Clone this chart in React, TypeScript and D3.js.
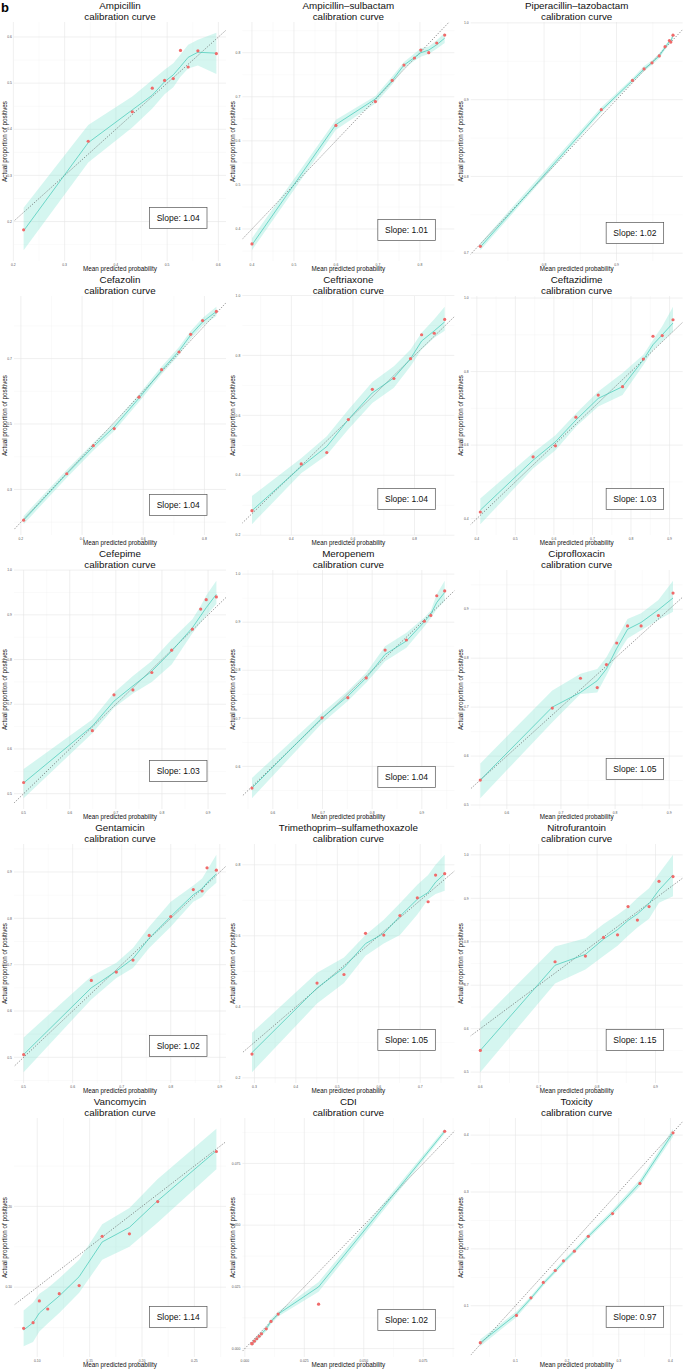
import * as React from 'react';
import * as d3 from 'd3';

// ---- data (values, not pixels) ----
const drugNames = [
  'Ampicillin', 'Ampicillin\u2013sulbactam', 'Piperacillin\u2013tazobactam',
  'Cefazolin', 'Ceftriaxone', 'Ceftazidime',
  'Cefepime', 'Meropenem', 'Ciprofloxacin',
  'Gentamicin', 'Trimethoprim\u2013sulfamethoxazole', 'Nitrofurantoin',
  'Vancomycin', 'CDI', 'Toxicity',
];
const slopes = ['1.04', '1.01', '1.02', '1.04', '1.04', '1.03', '1.03', '1.04', '1.05', '1.02', '1.05', '1.15', '1.14', '1.02', '0.97'];

const ampX = [0.220, 0.346, 0.432, 0.471, 0.495, 0.512, 0.526, 0.541, 0.560, 0.596];
const ampY = [0.182, 0.374, 0.438, 0.489, 0.506, 0.510, 0.571, 0.535, 0.570, 0.564];
const ampFit = [0.180, 0.371, 0.442, 0.474, 0.503, 0.518, 0.536, 0.556, 0.567, 0.565];
const ampLo = [0.138, 0.328, 0.404, 0.445, 0.476, 0.491, 0.514, 0.532, 0.538, 0.520];
const ampHi = [0.230, 0.409, 0.471, 0.507, 0.529, 0.543, 0.562, 0.583, 0.594, 0.609];

const asX = [0.400, 0.600, 0.694, 0.734, 0.762, 0.787, 0.802, 0.821, 0.840, 0.859];
const asY = [0.366, 0.635, 0.689, 0.737, 0.772, 0.788, 0.806, 0.800, 0.822, 0.840];
const asFit = [0.364, 0.637, 0.695, 0.737, 0.772, 0.789, 0.800, 0.806, 0.818, 0.833];
const asLo = [0.352, 0.625, 0.685, 0.728, 0.764, 0.782, 0.791, 0.797, 0.809, 0.822];
const asHi = [0.379, 0.648, 0.702, 0.746, 0.779, 0.798, 0.810, 0.814, 0.828, 0.845];

const ptX = [0.712, 0.879, 0.922, 0.938, 0.949, 0.959, 0.967, 0.973, 0.975, 0.978];
const ptY = [0.709, 0.887, 0.925, 0.940, 0.948, 0.957, 0.969, 0.977, 0.975, 0.984];
const ptFit = [0.708, 0.886, 0.925, 0.940, 0.948, 0.957, 0.968, 0.976, 0.976, 0.984];
const ptLo = [0.704, 0.883, 0.922, 0.937, 0.945, 0.954, 0.965, 0.973, 0.973, 0.980];
const ptHi = [0.713, 0.890, 0.928, 0.944, 0.951, 0.960, 0.971, 0.978, 0.979, 0.987];

const ceX = [0.209, 0.350, 0.437, 0.505, 0.586, 0.660, 0.717, 0.755, 0.794, 0.839];
const ceY = [0.206, 0.348, 0.434, 0.486, 0.582, 0.666, 0.720, 0.774, 0.816, 0.844];
const ceFit = [0.206, 0.348, 0.431, 0.491, 0.579, 0.664, 0.723, 0.772, 0.812, 0.844];
const ceLo = [0.194, 0.336, 0.419, 0.479, 0.567, 0.652, 0.711, 0.760, 0.800, 0.830];
const ceHi = [0.219, 0.360, 0.443, 0.503, 0.591, 0.676, 0.735, 0.784, 0.824, 0.858];

const crX = [0.272, 0.432, 0.515, 0.585, 0.663, 0.733, 0.787, 0.823, 0.864, 0.898];
const crY = [0.282, 0.438, 0.476, 0.586, 0.687, 0.723, 0.789, 0.869, 0.874, 0.920];
const crFit = [0.282, 0.429, 0.496, 0.586, 0.675, 0.725, 0.789, 0.848, 0.882, 0.912];
const crLo = [0.237, 0.407, 0.468, 0.554, 0.641, 0.692, 0.764, 0.820, 0.859, 0.882];
const crHi = [0.331, 0.457, 0.530, 0.619, 0.711, 0.764, 0.820, 0.876, 0.921, 0.962];

const czX = [0.409, 0.546, 0.604, 0.657, 0.715, 0.778, 0.832, 0.857, 0.881, 0.909];
const czY = [0.418, 0.568, 0.598, 0.676, 0.736, 0.759, 0.834, 0.896, 0.898, 0.941];
const czFit = [0.423, 0.559, 0.609, 0.668, 0.727, 0.759, 0.832, 0.873, 0.900, 0.932];
const czLo = [0.385, 0.536, 0.586, 0.650, 0.705, 0.736, 0.818, 0.859, 0.882, 0.909];
const czHi = [0.455, 0.579, 0.627, 0.686, 0.746, 0.796, 0.846, 0.886, 0.923, 0.976];

const cpX = [0.500, 0.649, 0.696, 0.737, 0.778, 0.821, 0.866, 0.884, 0.896, 0.918];
const cpY = [0.525, 0.641, 0.721, 0.732, 0.771, 0.821, 0.868, 0.913, 0.934, 0.940];
const cpFit = [0.524, 0.651, 0.707, 0.741, 0.774, 0.819, 0.871, 0.898, 0.916, 0.946];
const cpLo = [0.490, 0.635, 0.692, 0.724, 0.750, 0.789, 0.859, 0.883, 0.898, 0.924];
const cpHi = [0.555, 0.666, 0.726, 0.763, 0.797, 0.845, 0.890, 0.920, 0.943, 0.976];

const meX = [0.558, 0.699, 0.751, 0.788, 0.826, 0.869, 0.905, 0.918, 0.930, 0.946];
const meY = [0.555, 0.701, 0.743, 0.784, 0.842, 0.863, 0.902, 0.914, 0.955, 0.965];
const meFit = [0.555, 0.701, 0.746, 0.784, 0.833, 0.861, 0.901, 0.917, 0.941, 0.962];
const meLo = [0.534, 0.690, 0.736, 0.774, 0.819, 0.847, 0.891, 0.908, 0.927, 0.944];
const meHi = [0.576, 0.711, 0.757, 0.795, 0.850, 0.878, 0.910, 0.924, 0.958, 0.986];

const ciX = [0.551, 0.684, 0.736, 0.767, 0.784, 0.803, 0.823, 0.848, 0.880, 0.907];
const ciY = [0.551, 0.698, 0.759, 0.740, 0.787, 0.831, 0.866, 0.866, 0.887, 0.933];
const ciFit = [0.551, 0.700, 0.730, 0.754, 0.778, 0.820, 0.859, 0.873, 0.899, 0.923];
const ciLo = [0.514, 0.669, 0.727, 0.730, 0.765, 0.806, 0.840, 0.857, 0.878, 0.895];
const ciHi = [0.585, 0.734, 0.768, 0.778, 0.802, 0.840, 0.880, 0.892, 0.919, 0.958];

const geX = [0.500, 0.638, 0.689, 0.723, 0.756, 0.800, 0.846, 0.864, 0.874, 0.893];
const geY = [0.506, 0.666, 0.684, 0.710, 0.763, 0.804, 0.862, 0.859, 0.909, 0.904];
const geFit = [0.506, 0.650, 0.686, 0.713, 0.757, 0.804, 0.851, 0.864, 0.877, 0.896];
const geLo = [0.468, 0.625, 0.671, 0.693, 0.736, 0.782, 0.836, 0.846, 0.859, 0.877];
const geHi = [0.543, 0.675, 0.704, 0.736, 0.782, 0.836, 0.871, 0.886, 0.904, 0.937];

const tsX = [0.294, 0.451, 0.516, 0.568, 0.612, 0.651, 0.693, 0.719, 0.737, 0.759];
const tsY = [0.267, 0.467, 0.491, 0.607, 0.602, 0.657, 0.707, 0.696, 0.771, 0.775];
const tsFit = [0.271, 0.453, 0.510, 0.578, 0.607, 0.655, 0.703, 0.722, 0.751, 0.775];
const tsLo = [0.216, 0.409, 0.467, 0.544, 0.578, 0.602, 0.660, 0.703, 0.718, 0.727];
const tsHi = [0.327, 0.496, 0.539, 0.602, 0.645, 0.692, 0.744, 0.771, 0.800, 0.828];

const nfX = [0.600, 0.728, 0.780, 0.811, 0.835, 0.853, 0.869, 0.889, 0.906, 0.930];
const nfY = [0.550, 0.754, 0.767, 0.810, 0.816, 0.881, 0.850, 0.881, 0.939, 0.950];
const nfFit = [0.550, 0.746, 0.771, 0.806, 0.828, 0.849, 0.864, 0.888, 0.919, 0.954];
const nfLo = [0.500, 0.704, 0.736, 0.767, 0.791, 0.814, 0.833, 0.853, 0.890, 0.905];
const nfHi = [0.616, 0.789, 0.808, 0.841, 0.862, 0.880, 0.901, 0.923, 0.957, 1.000];

const vaX = [0.087, 0.096, 0.102, 0.110, 0.121, 0.140, 0.162, 0.188, 0.215, 0.271];
const vaY = [0.049, 0.056, 0.083, 0.073, 0.092, 0.102, 0.163, 0.166, 0.206, 0.268];
const vaFit = [0.047, 0.056, 0.068, 0.077, 0.089, 0.113, 0.156, 0.174, 0.207, 0.269];
const vaLo = [0.027, 0.032, 0.045, 0.055, 0.068, 0.093, 0.134, 0.150, 0.180, 0.246];
const vaHi = [0.071, 0.081, 0.092, 0.099, 0.111, 0.134, 0.178, 0.198, 0.234, 0.296];

const cdX = [0.003, 0.003, 0.004, 0.005, 0.006, 0.007, 0.009, 0.011, 0.014, 0.031, 0.084];
const cdY = [0.002, 0.002, 0.003, 0.004, 0.005, 0.006, 0.008, 0.011, 0.014, 0.018, 0.088];
const cdFit = [0.002, 0.002, 0.003, 0.004, 0.005, 0.006, 0.008, 0.011, 0.014, 0.025, 0.088];
const cdLo = [0.001, 0.001, 0.002, 0.003, 0.004, 0.005, 0.007, 0.010, 0.013, 0.023, 0.087];
const cdHi = [0.003, 0.003, 0.004, 0.005, 0.006, 0.007, 0.009, 0.012, 0.015, 0.027, 0.089];

const txX = [0.032, 0.102, 0.130, 0.154, 0.177, 0.193, 0.214, 0.241, 0.288, 0.341, 0.405];
const txY = [0.035, 0.083, 0.114, 0.141, 0.162, 0.179, 0.196, 0.222, 0.262, 0.315, 0.404];
const txFit = [0.035, 0.085, 0.113, 0.139, 0.161, 0.177, 0.196, 0.222, 0.264, 0.316, 0.404];
const txLo = [0.029, 0.080, 0.109, 0.135, 0.157, 0.173, 0.192, 0.218, 0.259, 0.310, 0.397];
const txHi = [0.041, 0.090, 0.117, 0.143, 0.165, 0.181, 0.200, 0.226, 0.269, 0.322, 0.411];

const xTickSets = [
  [0.2, 0.3, 0.4, 0.5, 0.6], [0.4, 0.5, 0.6, 0.7, 0.8], [0.8, 0.9],
  [0.2, 0.4, 0.6, 0.8], [0.4, 0.6, 0.8], [0.4, 0.5, 0.6, 0.7, 0.8, 0.9],
  [0.5, 0.6, 0.7, 0.8, 0.9], [0.6, 0.7, 0.8, 0.9], [0.6, 0.7, 0.8, 0.9],
  [0.5, 0.6, 0.7, 0.8, 0.9], [0.3, 0.4, 0.5, 0.6, 0.7], [0.6, 0.7, 0.8, 0.9],
  [0.1, 0.15, 0.2, 0.25], [0, 0.025, 0.05, 0.075], [0.1, 0.2, 0.3, 0.4],
];
const yTickSets = [
  [0.2, 0.3, 0.4, 0.5, 0.6], [0.4, 0.5, 0.6, 0.7, 0.8], [0.7, 0.8, 0.9, 1.0],
  [0.3, 0.5, 0.7], [0.2, 0.4, 0.6, 0.8, 1.0], [0.4, 0.6, 0.8, 1.0],
  [0.5, 0.6, 0.7, 0.8, 0.9, 1.0], [0.6, 0.7, 0.8, 0.9, 1.0], [0.5, 0.6, 0.7, 0.8, 0.9],
  [0.5, 0.6, 0.7, 0.8, 0.9], [0.2, 0.4, 0.6, 0.8], [0.5, 0.6, 0.7, 0.8, 0.9, 1.0],
  [0.1, 0.2], [0, 0.025, 0.05, 0.075], [0.1, 0.2, 0.3, 0.4],
];
const tickFormats = ['.1f', '.1f', '.1f', '.1f', '.1f', '.1f', '.1f', '.1f', '.1f', '.1f', '.1f', '.1f', '.2f', '.3f', '.1f'];

const series = [
  [ampX, ampY, ampFit, ampLo, ampHi], [asX, asY, asFit, asLo, asHi], [ptX, ptY, ptFit, ptLo, ptHi],
  [ceX, ceY, ceFit, ceLo, ceHi], [crX, crY, crFit, crLo, crHi], [czX, czY, czFit, czLo, czHi],
  [cpX, cpY, cpFit, cpLo, cpHi], [meX, meY, meFit, meLo, meHi], [ciX, ciY, ciFit, ciLo, ciHi],
  [geX, geY, geFit, geLo, geHi], [tsX, tsY, tsFit, tsLo, tsHi], [nfX, nfY, nfFit, nfLo, nfHi],
  [vaX, vaY, vaFit, vaLo, vaHi], [cdX, cdY, cdFit, cdLo, cdHi], [txX, txY, txFit, txLo, txHi],
];

// ---- layout ----
const W = 685;
const H = 1370;
const COL_W = 228.33;
const ROW_H = 274;
const P = { left: 14, right: 226, top: 22, bottom: 261 };
const slopeBoxY = [218, 230, 233, 231, 225, 225, 223, 229, 221, 224, 218, 218, 221, 224, 221];
const FONT = 'Liberation Sans, Arial, Helvetica, sans-serif';

function expand(vals: number[]): [number, number] {
  const [a, b] = d3.extent(vals) as [number, number];
  const pad = (b - a) * 0.05;
  return [a - pad, b + pad];
}

function minorTicks(ticks: number[], dom: [number, number]) {
  const step = ticks.length > 1 ? ticks[1] - ticks[0] : 0.1;
  const out: number[] = [];
  for (let v = ticks[0] - step / 2; v <= dom[1]; v += step) {
    if (v >= dom[0]) out.push(v);
  }
  return out;
}

function CalPanel({ i }: { i: number }) {
  const [xs, ys, fit, lo, hi] = series[i];
  const col = i % 3;
  const row = Math.floor(i / 3);
  const xDom = expand(xs);
  const yDom = expand([...ys, ...lo, ...hi]);
  const x = d3.scaleLinear().domain(xDom).range([P.left, P.right]);
  const y = d3.scaleLinear().domain(yDom).range([P.bottom, P.top]);
  const fmt = d3.format(tickFormats[i]);
  const xt = xTickSets[i];
  const yt = yTickSets[i];
  const idx = d3.range(xs.length);

  const band = d3.area<number>()
    .x((k) => x(xs[k]))
    .y0((k) => y(lo[k]))
    .y1((k) => y(hi[k]))(idx);
  const line = d3.line<number>()
    .x((k) => x(xs[k]))
    .y((k) => y(fit[k]))(idx);

  const lo0 = Math.min(xDom[0], yDom[0]);
  const hi0 = Math.max(xDom[1], yDom[1]);
  const clipId = `clip-${i}`;
  const cx = (P.left + P.right) / 2;
  const cy = (P.top + P.bottom) / 2;
  const by = slopeBoxY[i];

  return (
    <g transform={`translate(${col * COL_W},${row * ROW_H})`}>
      <defs>
        <clipPath id={clipId}>
          <rect x={P.left} y={P.top} width={P.right - P.left} height={P.bottom - P.top} />
        </clipPath>
      </defs>
      {/* grid */}
      {minorTicks(xt, xDom).map((v) => (
        <line key={`mx${v}`} x1={x(v)} x2={x(v)} y1={P.top} y2={P.bottom} stroke="#f2f2f2" strokeWidth={0.4} />
      ))}
      {minorTicks(yt, yDom).map((v) => (
        <line key={`my${v}`} y1={y(v)} y2={y(v)} x1={P.left} x2={P.right} stroke="#f2f2f2" strokeWidth={0.4} />
      ))}
      {xt.map((v) => (
        <line key={`gx${v}`} x1={x(v)} x2={x(v)} y1={P.top} y2={P.bottom} stroke="#e6e6e6" strokeWidth={0.6} />
      ))}
      {yt.map((v) => (
        <line key={`gy${v}`} y1={y(v)} y2={y(v)} x1={P.left} x2={P.right} stroke="#e6e6e6" strokeWidth={0.6} />
      ))}
      {/* tick labels */}
      {xt.map((v) => (
        <text key={`tx${v}`} x={x(v)} y={P.bottom + 5} fontSize={3.4} fill="#555" textAnchor="middle" fontFamily={FONT}>
          {fmt(v)}
        </text>
      ))}
      {yt.map((v) => (
        <text key={`ty${v}`} x={P.left - 2} y={y(v) + 1.2} fontSize={3.4} fill="#555" textAnchor="end" fontFamily={FONT}>
          {fmt(v)}
        </text>
      ))}
      <g clipPath={`url(#${clipId})`}>
        <path d={band ?? ''} fill="#7de3d1" fillOpacity={0.32} />
        <line x1={x(lo0)} y1={y(lo0)} x2={x(hi0)} y2={y(hi0)} stroke="#555" strokeWidth={0.6} strokeDasharray="1.4,1.4" />
        <path d={line ?? ''} fill="none" stroke="#3fc9b6" strokeWidth={0.7} />
        {idx.map((k) => (
          <circle key={k} cx={x(xs[k])} cy={y(ys[k])} r={1.6} fill="#f06a6a" />
        ))}
      </g>
      {/* titles */}
      <text x={cx} y={9} fontSize={9.8} textAnchor="middle" fontFamily={FONT} fill="#111">{drugNames[i]}</text>
      <text x={cx} y={19.8} fontSize={9.8} textAnchor="middle" fontFamily={FONT} fill="#111">calibration curve</text>
      <text x={cx} y={270.5} fontSize={6.3} textAnchor="middle" fontFamily={FONT} fill="#111">Mean predicted probability</text>
      <text transform={`translate(6.5,${cy}) rotate(-90)`} fontSize={6.3} textAnchor="middle" fontFamily={FONT} fill="#111">
        Actual proportion of positives
      </text>
      {/* slope annotation */}
      <rect x={149.5} y={by - 10.5} width={57.5} height={21} fill="#fff" stroke="#555" strokeWidth={0.7} />
      <text x={178.2} y={by + 3} fontSize={8.5} textAnchor="middle" fontFamily={FONT} fill="#111">
        Slope: {slopes[i]}
      </text>
    </g>
  );
}

export default function App() {
  return (
    <svg width={W} height={H} viewBox={`0 0 ${W} ${H}`} style={{ position: 'absolute', left: 0, top: 0, background: '#fff' }}>
      <rect width={W} height={H} fill="#fff" />
      {drugNames.map((_, i) => (
        <CalPanel key={i} i={i} />
      ))}
      <text x={1} y={11.5} fontSize={13} fontWeight="bold" fontFamily={FONT} fill="#000">b</text>
    </svg>
  );
}
